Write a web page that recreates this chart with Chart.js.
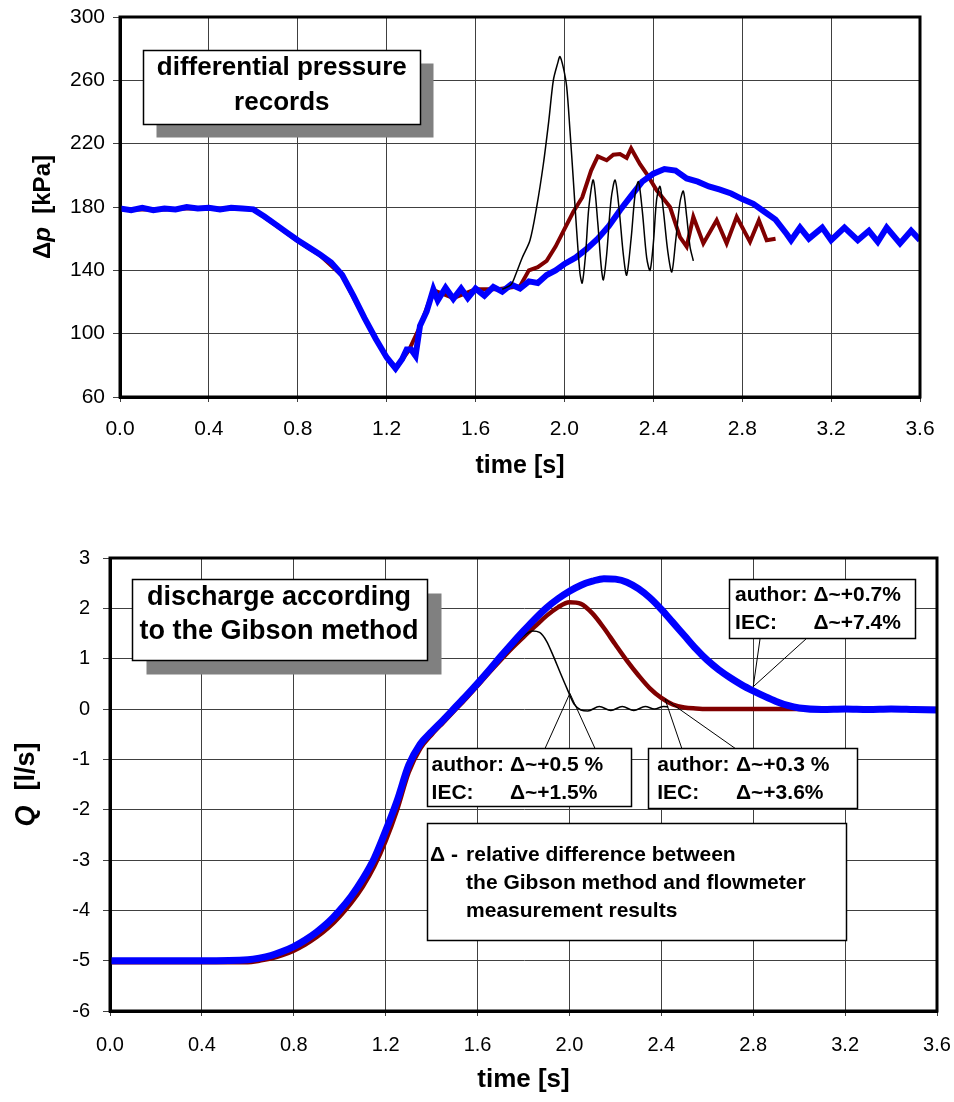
<!DOCTYPE html>
<html>
<head>
<meta charset="utf-8">
<script src="https://cdn.jsdelivr.net/npm/chart.js@4.4.1/dist/chart.umd.min.js"></script>
<style>
  body { margin: 0; background: #fff; }
  canvas { display: block; }
</style>
</head>
<body>
<canvas id="dpChart" width="954" height="500"></canvas>
<canvas id="qChart" width="954" height="602"></canvas>
<script>
// differential pressure records [kPa]
const dpTimeBlue = [0, 0.05, 0.1, 0.15, 0.2, 0.25, 0.3, 0.35, 0.4, 0.45, 0.5, 0.55, 0.6,
  0.65, 0.7, 0.75, 0.8, 0.85, 0.9, 0.95, 1.0, 1.05, 1.1, 1.15, 1.2,
  1.24, 1.27, 1.29, 1.31, 1.33, 1.35, 1.38, 1.41, 1.43, 1.465, 1.5, 1.535, 1.565, 1.6, 1.64, 1.68, 1.72, 1.76, 1.8, 1.84, 1.88, 1.92, 1.96, 2.0,
  2.05, 2.1, 2.15, 2.2, 2.25, 2.3, 2.35, 2.4, 2.45, 2.5, 2.55, 2.6, 2.65, 2.7, 2.75, 2.8, 2.85, 2.9, 2.95, 3.0,
  3.02, 3.06, 3.1, 3.16, 3.2, 3.26, 3.32, 3.37, 3.41, 3.45, 3.51, 3.56, 3.6];
const dpBlue = [179, 178, 179.5, 178, 179, 178.5, 180, 179, 179.5, 178.5, 179.5, 179, 178.5,
  174, 169, 164, 159, 154.5, 150, 145, 137, 124, 110, 97, 85,
  78, 84, 90, 90, 86, 105, 114, 128, 121, 129, 122, 128.5, 122.5, 128.5, 124, 129.5, 126.5, 131, 128.5, 133, 132, 137, 140, 144,
  148, 153.5, 160, 168, 178, 187, 196, 201, 204, 203, 198, 196, 193, 191, 188.5, 185, 182, 177, 172, 163,
  159, 167, 160, 167, 159, 167, 159, 165, 158, 167, 157, 165, 159];

const dpTimeRed = [0, 0.1, 0.2, 0.3, 0.4, 0.5, 0.6, 0.7, 0.8, 0.9, 1.0, 1.1, 1.2,
  1.24, 1.3, 1.35, 1.41, 1.5, 1.6, 1.7, 1.8,
  1.84, 1.88, 1.92, 1.96, 2.0, 2.04, 2.08, 2.12, 2.15, 2.19, 2.22, 2.25, 2.28, 2.3, 2.34, 2.37, 2.415, 2.475,
  2.52, 2.55, 2.58, 2.625, 2.685, 2.73, 2.775, 2.835, 2.875, 2.91, 2.95];
const dpRed = [178.5, 178.5, 178.5, 179, 179, 179, 178.5, 168.5, 158.5, 149.5, 136.5, 109.5, 84.5,
  77.5, 89.5, 104.5, 127.5, 122.5, 128, 128, 130,
  140, 142, 146, 155, 166, 177, 186, 203, 212, 209.5, 213, 213.5, 211, 217, 207, 201, 190.5, 180,
  161, 155, 173.8, 157, 171.6, 157, 173.8, 158, 171.6, 159, 160];

const dpTimeBlack = [1.72, 1.76, 1.785, 1.81, 1.845, 1.875, 1.905, 1.93, 1.95, 1.97,
  1.98, 1.995, 2.01, 2.025, 2.04, 2.055, 2.07, 2.08, 2.095, 2.11,
  2.13, 2.15, 2.165, 2.175, 2.19, 2.21, 2.228, 2.245, 2.265, 2.28,
  2.3, 2.318, 2.333, 2.35, 2.37, 2.385, 2.4, 2.415, 2.43, 2.445,
  2.465, 2.483, 2.5, 2.52, 2.535, 2.55, 2.565, 2.58];
const dpBlack = [128, 131, 139, 148, 159, 180, 207, 235, 260, 271,
  275, 268, 256, 228, 197, 165, 138, 132, 150, 180,
  197, 170, 143, 134, 150, 185, 197, 180, 150, 137,
  160, 188, 196, 178, 148, 140, 157, 185, 193, 178,
  152, 139, 158, 183, 190, 174, 155, 146];

// discharge according to the Gibson method [l/s]
const qTimeBlue = [0, 0.2, 0.4, 0.6, 0.65, 0.7, 0.75, 0.8, 0.85, 0.9, 0.95, 1.0, 1.05, 1.1, 1.15, 1.2,
  1.25, 1.3, 1.35, 1.4, 1.45, 1.5, 1.55, 1.6, 1.65, 1.7, 1.75, 1.8, 1.85, 1.9, 1.95, 2.0,
  2.05, 2.1, 2.15, 2.2, 2.25, 2.3, 2.35, 2.4, 2.45, 2.5, 2.55, 2.6, 2.65, 2.7, 2.75, 2.8,
  2.85, 2.9, 2.95, 3.0, 3.1, 3.2, 3.3, 3.4, 3.5, 3.6];
const qBlue = [-5.0, -5.0, -5.0, -4.98, -4.95, -4.9, -4.82, -4.72, -4.59, -4.43, -4.24, -4.0, -3.72, -3.38, -2.97, -2.42,
  -1.82, -1.12, -0.7, -0.45, -0.22, 0.02, 0.26, 0.51, 0.77, 1.04, 1.3, 1.55, 1.79, 2.01, 2.19, 2.34,
  2.46, 2.54, 2.59, 2.58, 2.52, 2.39, 2.21, 1.98, 1.72, 1.46, 1.2, 0.97, 0.78, 0.62, 0.48, 0.36,
  0.25, 0.15, 0.07, 0.02, -0.01, 0.0, -0.01, 0.0, -0.01, -0.02];

const qTimeRed = [0, 0.2, 0.4, 0.6, 0.65, 0.7, 0.75, 0.8, 0.85, 0.9, 0.95, 1.0, 1.05, 1.1, 1.15, 1.2,
  1.25, 1.3, 1.35, 1.4, 1.45, 1.5, 1.55, 1.6, 1.65, 1.7, 1.75, 1.8, 1.85, 1.9, 1.95, 2.0,
  2.05, 2.1, 2.15, 2.2, 2.25, 2.3, 2.35, 2.4, 2.45, 2.5, 2.55, 2.6, 2.8, 3.0, 3.2, 3.4, 3.6];
const qRed = [-5.03, -5.03, -5.03, -5.03, -5.0, -4.96, -4.89, -4.8, -4.68, -4.53, -4.35, -4.12, -3.85, -3.53, -3.13, -2.62,
  -2.0, -1.26, -0.79, -0.51, -0.27, -0.03, 0.21, 0.46, 0.72, 0.97, 1.21, 1.43, 1.64, 1.85, 2.02, 2.12,
  2.09, 1.9, 1.61, 1.28, 0.96, 0.67, 0.41, 0.22, 0.09, 0.03, 0.01, 0.0, 0.0, 0.0, 0.01, 0.0, 0.0];

const qTimeBlack = [1.7, 1.75, 1.8, 1.84, 1.87, 1.9, 1.93, 1.96, 1.99, 2.02, 2.05, 2.08,
  2.13, 2.18, 2.23, 2.28, 2.33, 2.37, 2.41, 2.43];
const qBlack = [0.97, 1.21, 1.45, 1.55, 1.52, 1.35, 1.05, 0.72, 0.4, 0.1, -0.02, -0.04,
  0.05, -0.03, 0.05, -0.03, 0.05, 0.0, 0.05, 0.04];

const timeTicks = [0, 0.4, 0.8, 1.2, 1.6, 2.0, 2.4, 2.8, 3.2, 3.6];

// text boxes, placed in data units of each chart
const dpNotes = {
  yTitle: { x: 43, size: 24, parts: [['Δ', false], ['p', true], ['  [kPa]', false]] },
  leaders: [],
  boxes: [
    { x0: 0.105, y0: 278.9, x1: 1.35, y1: 232.2, shadow: 13, font: 'bold 26px "Liberation Sans", Arial, sans-serif',
      texts: [['differential pressure', 0.728, 267.6, 'center'], ['records', 0.728, 246.1, 'center']] }
  ]
};

const qNotes = {
  yTitle: { x: 27, size: 27, parts: [['Q', true], ['  [l/s]', false]] },
  leaders: [
    [1.894, -0.781, 2.002, 0.312], [2.111, -0.781, 2.002, 0.312],
    [2.489, -0.781, 2.416, 0.199], [2.721, -0.781, 2.416, 0.199],
    [2.830, 1.405, 2.800, 0.443], [3.033, 1.405, 2.800, 0.443]
  ],
  boxes: [
    { x0: 0.094, y0: 2.577, x1: 1.378, y1: 0.960, shadow: 14, font: 'bold 27px "Liberation Sans", Arial, sans-serif',
      texts: [['discharge according', 0.736, 2.205, 'center'], ['to the Gibson method', 0.736, 1.530, 'center']] },
    { x0: 1.378, y0: -0.781, x1: 2.264, y1: -1.941, font: 'bold 21px "Liberation Sans", Arial, sans-serif',
      texts: [['author:', 1.400, -1.113], ['Δ~+0.5 %', 1.741, -1.113], ['IEC:', 1.400, -1.669], ['Δ~+1.5%', 1.741, -1.669]] },
    { x0: 2.341, y0: -0.781, x1: 3.250, y1: -1.973, font: 'bold 21px "Liberation Sans", Arial, sans-serif',
      texts: [['author:', 2.382, -1.113], ['Δ~+0.3 %', 2.725, -1.113], ['IEC:', 2.382, -1.669], ['Δ~+3.6%', 2.725, -1.669]] },
    { x0: 2.696, y0: 2.577, x1: 3.504, y1: 1.403, font: 'bold 21px "Liberation Sans", Arial, sans-serif',
      texts: [['author:', 2.721, 2.265], ['Δ~+0.7%', 3.062, 2.265], ['IEC:', 2.721, 1.703], ['Δ~+7.4%', 3.062, 1.703]] },
    { x0: 1.378, y0: -2.259, x1: 3.200, y1: -4.576, font: 'bold 21px "Liberation Sans", Arial, sans-serif',
      texts: [['Δ -', 1.393, -2.901], ['relative difference between', 1.550, -2.901],
              ['the Gibson method and flowmeter', 1.550, -3.463], ['measurement results', 1.550, -4.027]] }
  ]
};

Chart.defaults.font.family = '"Liberation Sans", Arial, sans-serif';
Chart.defaults.color = '#000';

const notesPlugin = {
  id: 'notes',
  afterDatasetsDraw(chart, args, opts) {
    const ctx = chart.ctx;
    const a = chart.chartArea;
    const X = v => chart.scales.x.getPixelForValue(v);
    const Y = v => chart.scales.y.getPixelForValue(v);
    ctx.save();
    ctx.strokeStyle = '#000';
    ctx.lineWidth = 3;
    ctx.strokeRect(a.left, a.top, a.right - a.left, a.bottom - a.top);

    ctx.lineWidth = 1;
    opts.leaders.forEach(l => {
      ctx.beginPath();
      ctx.moveTo(X(l[0]), Y(l[1]));
      ctx.lineTo(X(l[2]), Y(l[3]));
      ctx.stroke();
    });

    opts.boxes.forEach(b => {
      const x0 = Math.round(X(b.x0)) + 0.5, y0 = Math.round(Y(b.y0)) + 0.5;
      const w = Math.round(X(b.x1) - X(b.x0)), h = Math.round(Y(b.y1) - Y(b.y0));
      if (b.shadow) {
        ctx.fillStyle = '#808080';
        ctx.fillRect(x0 + b.shadow, y0 + b.shadow, w, h);
      }
      ctx.fillStyle = '#fff';
      ctx.fillRect(x0, y0, w, h);
      ctx.strokeStyle = '#000';
      ctx.lineWidth = 1.5;
      ctx.strokeRect(x0, y0, w, h);
      ctx.fillStyle = '#000';
      ctx.font = b.font;
      ctx.textBaseline = 'middle';
      b.texts.forEach(t => {
        ctx.textAlign = t[3] || 'left';
        ctx.fillText(t[0], X(t[1]), Y(t[2]));
      });
    });

    // y axis title with italic symbol
    const yt = opts.yTitle;
    ctx.translate(yt.x, (a.top + a.bottom) / 2);
    ctx.rotate(-Math.PI / 2);
    ctx.textBaseline = 'middle';
    ctx.textAlign = 'left';
    const fontOf = p => (p[1] ? 'italic ' : '') + 'bold ' + yt.size + 'px "Liberation Sans", Arial, sans-serif';
    let total = 0;
    yt.parts.forEach(p => { ctx.font = fontOf(p); total += ctx.measureText(p[0]).width; });
    let cx = -total / 2;
    yt.parts.forEach(p => {
      ctx.font = fontOf(p);
      ctx.fillText(p[0], cx, 0);
      cx += ctx.measureText(p[0]).width;
    });
    ctx.restore();
  }
};

function pairs(xs, ys) {
  return xs.map((x, i) => ({ x: x, y: ys[i] }));
}

function makeChart(el, sets, yMin, yMax, yStep, geo, notes) {
  return new Chart(el, {
    type: 'line',
    data: { datasets: sets },
    options: {
      responsive: false,
      animation: false,
      layout: { padding: { top: geo.top, right: geo.right, left: 0, bottom: 0 } },
      elements: { point: { radius: 0 } },
      scales: {
        x: {
          type: 'linear', min: 0, max: 3.6,
          afterBuildTicks: s => { s.ticks = timeTicks.map(v => ({ value: v })); },
          // fixed axis box, labels at the edges may spill into the padding
          afterFit: s => { s.height = geo.xHeight; s.paddingLeft = 0; s.paddingRight = 0; },
          ticks: { font: { size: geo.xFont }, padding: geo.xPad, maxRotation: 0, callback: v => v.toFixed(1) },
          grid: { color: '#404040', lineWidth: 1, tickLength: 5 },
          border: { color: '#000', width: 3 },
          title: { display: true, text: 'time [s]', font: { size: geo.xTitle, weight: 'bold' },
                   padding: { top: 0, bottom: geo.xTitlePad } }
        },
        y: {
          min: yMin, max: yMax,
          ticks: { stepSize: yStep, font: { size: geo.yFont }, padding: geo.yPad },
          afterFit: s => { s.width = geo.yWidth; s.paddingTop = 0; s.paddingBottom = 0; },
          grid: { color: '#404040', lineWidth: 1, tickLength: 7 },
          border: { color: '#000', width: 3 }
        }
      },
      plugins: { legend: { display: false }, tooltip: { enabled: false }, notes: notes }
    },
    plugins: [notesPlugin]
  });
}

makeChart(document.getElementById('dpChart'), [
  { data: pairs(dpTimeBlack, dpBlack), borderColor: '#000000', borderWidth: 1.5, tension: 0.3 },
  { data: pairs(dpTimeBlue, dpBlue), borderColor: '#0000ff', borderWidth: 6, tension: 0 },
  { data: pairs(dpTimeRed, dpRed), borderColor: '#800000', borderWidth: 4, tension: 0 }
], 60, 300, 40,
{ top: 17, right: 34, xHeight: 103, yWidth: 120, xFont: 21, yFont: 21, xPad: 15, yPad: 8, xTitle: 25, xTitlePad: 19 },
dpNotes);

makeChart(document.getElementById('qChart'), [
  { data: pairs(qTimeBlue, qBlue), borderColor: '#0000ff', borderWidth: 7, cubicInterpolationMode: 'monotone' },
  { data: pairs(qTimeBlack, qBlack), borderColor: '#000000', borderWidth: 1.5, cubicInterpolationMode: 'monotone' },
  { data: pairs(qTimeRed, qRed), borderColor: '#800000', borderWidth: 4.5, cubicInterpolationMode: 'monotone' }
], -6, 3, 1,
{ top: 58, right: 17, xHeight: 91, yWidth: 110, xFont: 20, yFont: 20, xPad: 17, yPad: 13, xTitle: 26, xTitlePad: 7 },
qNotes);
</script>
</body>
</html>
